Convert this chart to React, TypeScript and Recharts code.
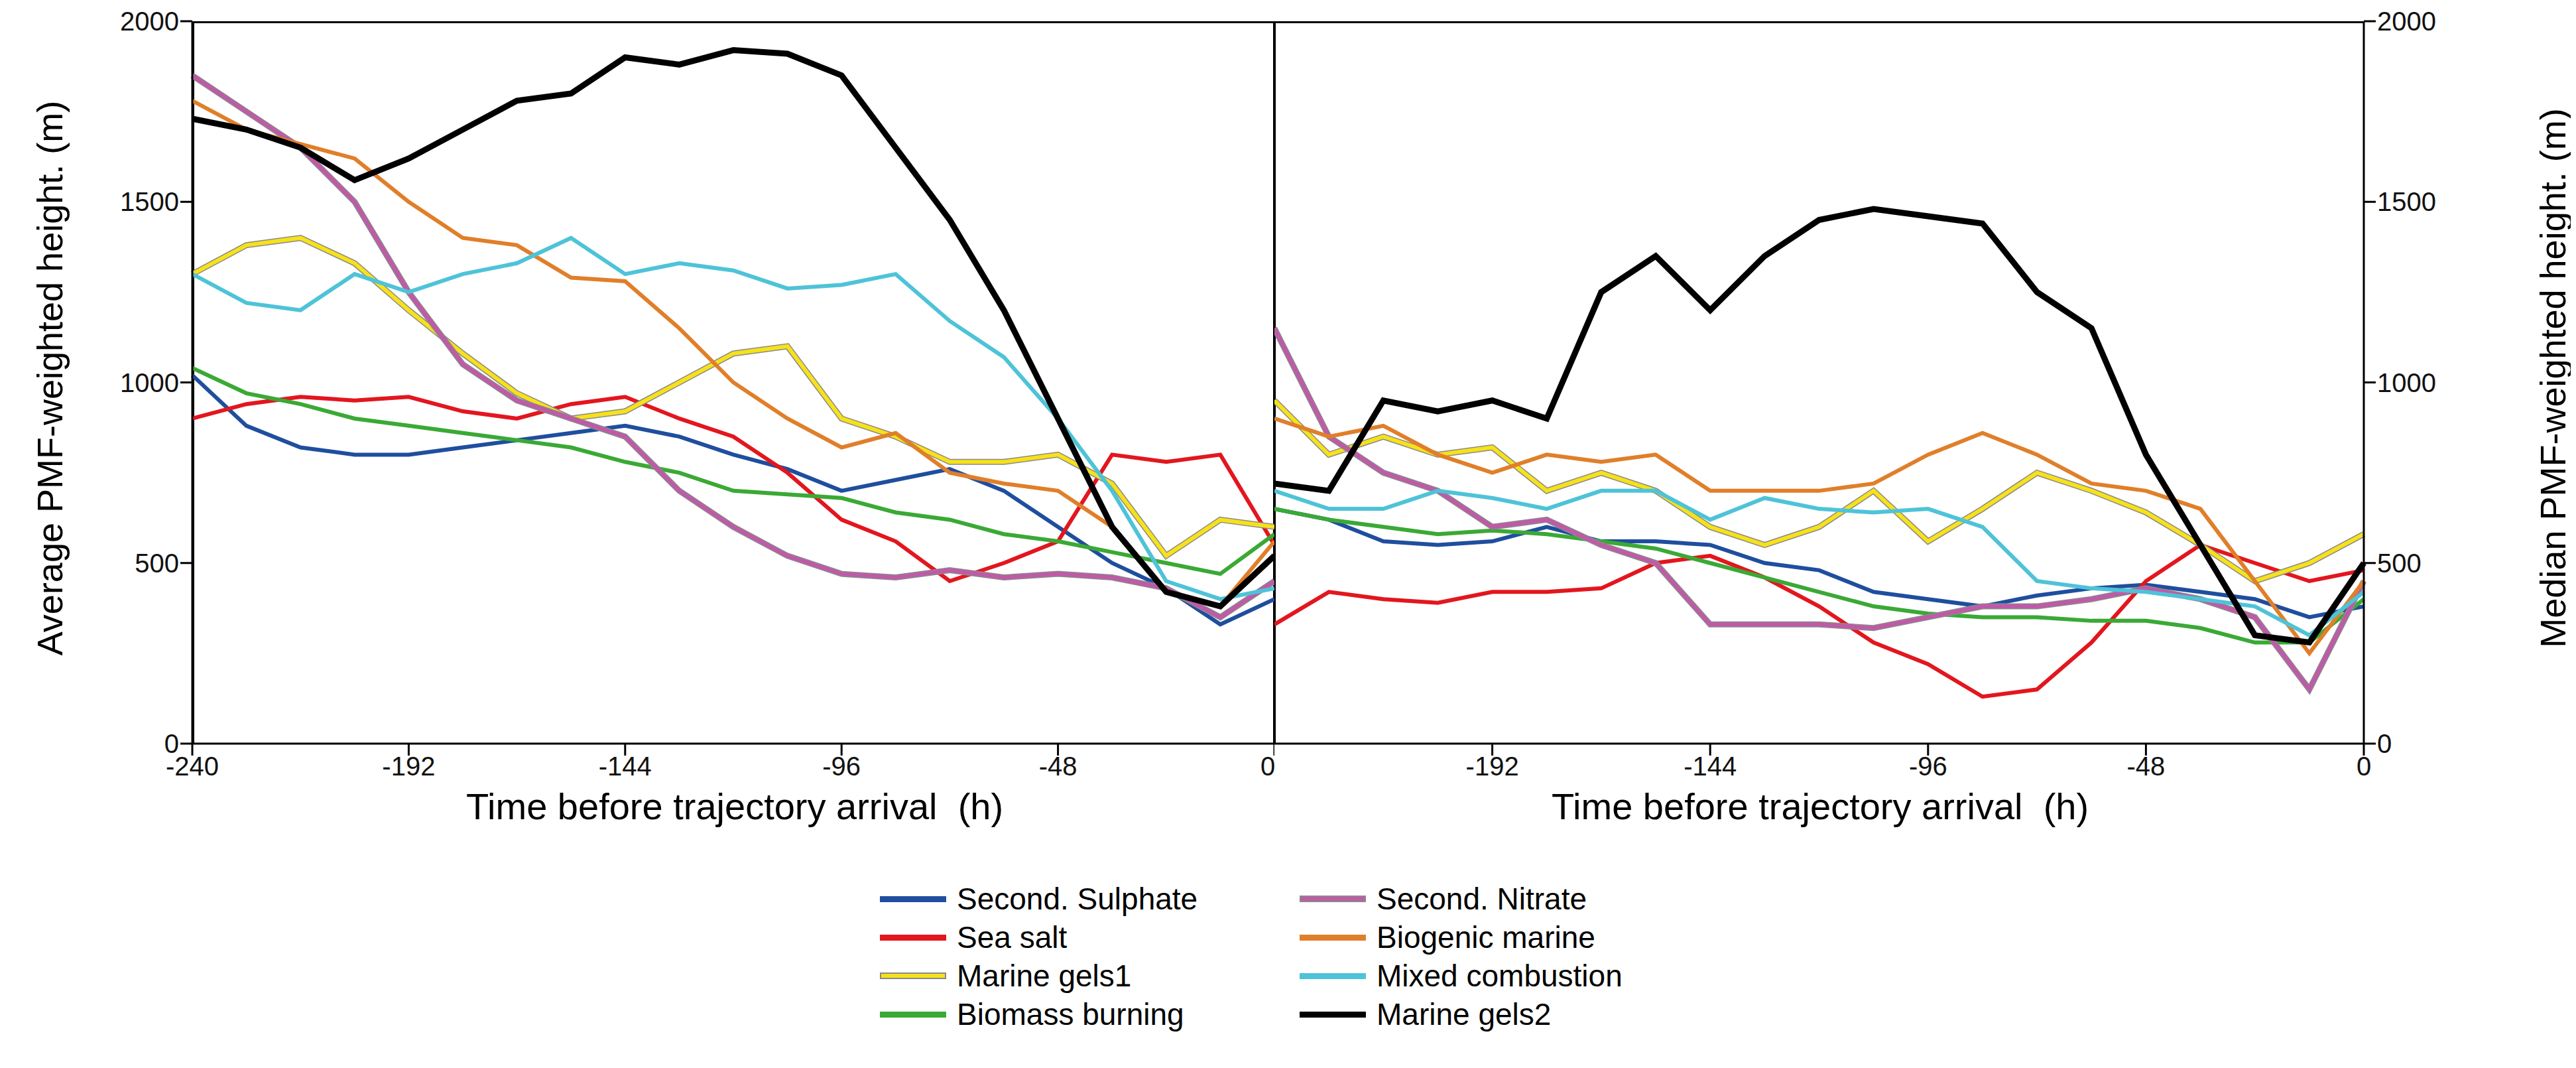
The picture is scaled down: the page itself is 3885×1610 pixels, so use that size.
import React from "react";
import { LineChart, Line, XAxis, YAxis } from "recharts";

const hours = [-240, -228, -216, -204, -192, -180, -168, -156, -144, -132, -120, -108, -96, -84, -72, -60, -48, -36, -24, -12, 0];
const xTicks = [-240, -192, -144, -96, -48, 0];
const yTicks = [0, 500, 1000, 1500, 2000];

// averaged heights (left panel)
const avgSulphate = [1020, 880, 820, 800, 800, 820, 840, 860, 880, 850, 800, 760, 700, 730, 760, 700, 600, 500, 430, 330, 400];
const avgSeaSalt = [900, 940, 960, 950, 960, 920, 900, 940, 960, 900, 850, 750, 620, 560, 450, 500, 560, 800, 780, 800, 550];
const avgGels1 = [1300, 1380, 1400, 1330, 1200, 1080, 970, 900, 920, 1000, 1080, 1100, 900, 850, 780, 780, 800, 720, 520, 620, 600];
const avgBiomass = [1040, 970, 940, 900, 880, 860, 840, 820, 780, 750, 700, 690, 680, 640, 620, 580, 560, 530, 500, 470, 580];
const avgNitrate = [1850, 1750, 1650, 1500, 1250, 1050, 950, 900, 850, 700, 600, 520, 470, 460, 480, 460, 470, 460, 430, 350, 450];
const avgBiogenic = [1780, 1700, 1660, 1620, 1500, 1400, 1380, 1290, 1280, 1150, 1000, 900, 820, 860, 750, 720, 700, 600, 420, 380, 560];
const avgMixed = [1300, 1220, 1200, 1300, 1250, 1300, 1330, 1400, 1300, 1330, 1310, 1260, 1270, 1300, 1170, 1070, 900, 700, 450, 400, 430];
const avgGels2 = [1730, 1700, 1650, 1560, 1620, 1700, 1780, 1800, 1900, 1880, 1920, 1910, 1850, 1650, 1450, 1200, 900, 600, 420, 380, 520];

// median heights (right panel)
const medSulphate = [650, 620, 560, 550, 560, 600, 560, 560, 550, 500, 480, 420, 400, 380, 410, 430, 440, 420, 400, 350, 380];
const medSeaSalt = [330, 420, 400, 390, 420, 420, 430, 500, 520, 460, 380, 280, 220, 130, 150, 280, 450, 550, 500, 450, 480];
const medGels1 = [950, 800, 850, 800, 820, 700, 750, 700, 600, 550, 600, 700, 560, 650, 750, 700, 640, 550, 450, 500, 580];
const medBiomass = [650, 620, 600, 580, 590, 580, 560, 540, 500, 460, 420, 380, 360, 350, 350, 340, 340, 320, 280, 280, 400];
const medNitrate = [1150, 850, 750, 700, 600, 620, 550, 500, 330, 330, 330, 320, 350, 380, 380, 400, 430, 400, 350, 150, 450];
const medBiogenic = [900, 850, 880, 800, 750, 800, 780, 800, 700, 700, 700, 720, 800, 860, 800, 720, 700, 650, 450, 250, 450];
const medMixed = [700, 650, 650, 700, 680, 650, 700, 700, 620, 680, 650, 640, 650, 600, 450, 430, 420, 400, 380, 300, 420];
const medGels2 = [720, 700, 950, 920, 950, 900, 1250, 1350, 1200, 1350, 1450, 1480, 1460, 1440, 1250, 1150, 800, 550, 300, 280, 500];

const series = [
  { key: "sulphate", name: "Second. Sulphate", color: "#1f4e9e", outline: false },
  { key: "seaSalt", name: "Sea salt", color: "#e3161e", outline: false },
  { key: "gels1", name: "Marine gels1", color: "#f7e11a", outline: true },
  { key: "biomass", name: "Biomass burning", color: "#3aa935", outline: false },
  { key: "nitrate", name: "Second. Nitrate", color: "#c05aa8", outline: true },
  { key: "biogenic", name: "Biogenic marine", color: "#e07f2a", outline: false },
  { key: "mixed", name: "Mixed combustion", color: "#4ec3d8", outline: false },
  { key: "gels2", name: "Marine gels2", color: "#000000", outline: false },
];

const build = (arrs: number[][]) =>
  hours.map((h, i) => {
    const row: any = { h };
    series.forEach((s, j) => (row[s.key] = arrs[j][i]));
    return row;
  });

const avgData = build([avgSulphate, avgSeaSalt, avgGels1, avgBiomass, avgNitrate, avgBiogenic, avgMixed, avgGels2]);
const medData = build([medSulphate, medSeaSalt, medGels1, medBiomass, medNitrate, medBiogenic, medMixed, medGels2]);

const tickStyle = { fontSize: 40, fill: "#111", fontFamily: "Liberation Sans, Arial" };
const font = "Liberation Sans, Arial, sans-serif";

function lines() {
  const out: any[] = [];
  series.forEach((s) => {
    if (s.outline)
      out.push(
        <Line key={s.key + "o"} dataKey={s.key} stroke="#8a8a8a" strokeWidth={9} dot={false} isAnimationActive={false} />
      );
    out.push(
      <Line key={s.key} dataKey={s.key} stroke={s.color} strokeWidth={s.key === "gels2" ? 9 : 6} dot={false} isAnimationActive={false} />
    );
  });
  return out;
}

export default function App() {
  return (
    <div style={{ position: "relative", width: 3885, height: 1610, background: "#fff", fontFamily: font, margin: -8 }}>
      <div style={{ position: "absolute", left: 290, top: 32, width: 3275, height: 1089, borderTop: "3px solid #000", borderLeft: "3px solid #000", boxSizing: "border-box" }} />
      <div style={{ position: "absolute", left: 1920, top: 32, width: 4, height: 1089, background: "#000" }} />
      <div style={{ position: "absolute", left: 0 }}>
        <LineChart width={1922} height={1250} data={avgData} margin={{ top: 32, right: 0, bottom: 0, left: 0 }}>
          <XAxis dataKey="h" type="number" domain={[-240, 0]} ticks={xTicks} tick={tickStyle} stroke="#000" strokeWidth={3} tickSize={18} height={129} />
          <YAxis domain={[0, 2000]} ticks={yTicks} tick={tickStyle} stroke="#000" strokeWidth={3} tickSize={18} width={290} />
          {lines()}
        </LineChart>
      </div>
      <div style={{ position: "absolute", left: 1922, top: 0 }}>
        <LineChart width={1963} height={1250} data={medData} margin={{ top: 32, right: 0, bottom: 0, left: 0 }}>
          <XAxis dataKey="h" type="number" domain={[-240, 0]} ticks={xTicks} tick={tickStyle} stroke="#000" strokeWidth={3} tickSize={18} height={129} />
          <YAxis orientation="right" domain={[0, 2000]} ticks={yTicks} tick={tickStyle} stroke="#000" strokeWidth={3} tickSize={18} width={320} />
          {lines()}
        </LineChart>
      </div>
      <div style={{ position: "absolute", left: 75, top: 570, transform: "translate(-50%,-50%) rotate(-90deg)", whiteSpace: "nowrap", fontSize: 54 }}>
        Average PMF-weighted height. (m)
      </div>
      <div style={{ position: "absolute", left: 3850, top: 570, transform: "translate(-50%,-50%) rotate(-90deg)", whiteSpace: "nowrap", fontSize: 54 }}>
        Median PMF-weighted height. (m)
      </div>
      <div style={{ position: "absolute", left: 1108, top: 1215, transform: "translate(-50%,-50%)", whiteSpace: "nowrap", fontSize: 56 }}>
        Time before trajectory arrival&nbsp;&nbsp;(h)
      </div>
      <div style={{ position: "absolute", left: 2745, top: 1215, transform: "translate(-50%,-50%)", whiteSpace: "nowrap", fontSize: 56 }}>
        Time before trajectory arrival&nbsp;&nbsp;(h)
      </div>
      {series.map((s, i) => {
        const col = i < 4 ? 0 : 1;
        const row = i % 4;
        const x = col === 0 ? 1327 : 1960;
        const y = 1355 + row * 58;
        return (
          <div key={s.key} style={{ position: "absolute", left: x, top: y, display: "flex", alignItems: "center", transform: "translateY(-50%)" }}>
            <div style={{ width: 100, height: s.outline ? 10 : 9, background: s.color, border: s.outline ? "2px solid #8a8a8a" : "none", boxSizing: "border-box" }} />
            <span style={{ marginLeft: 16, fontSize: 46, whiteSpace: "nowrap" }}>{s.name}</span>
          </div>
        );
      })}
    </div>
  );
}
